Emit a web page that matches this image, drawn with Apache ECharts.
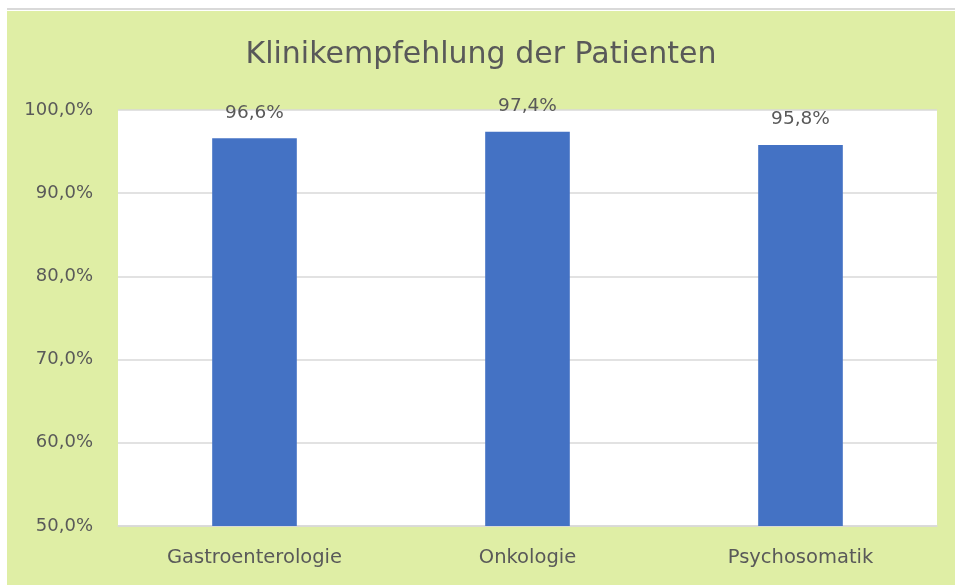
<!DOCTYPE html>
<html>
<head>
<meta charset="utf-8">
<script src="https://cdn.jsdelivr.net/npm/echarts@6/dist/echarts.min.js"></script>
<style>
  html, body { margin: 0; padding: 0; background: #ffffff; }
  #topline { position: absolute; left: 7px; top: 8px; width: 948px; height: 2px; background: #d9d9d9; }
  #main { position: absolute; left: 7px; top: 11px; width: 948px; height: 574px; }
</style>
</head>
<body>
<div id="topline"></div>
<div id="main"></div>
<script>
const categories = ['Gastroenterologie', 'Onkologie', 'Psychosomatik'];
const values = [96.6, 97.4, 95.8];
const yTicks = [50, 60, 70, 80, 90, 100];

function pct(v) {
  return v.toFixed(1).replace('.', ',') + '%';
}

const chart = echarts.init(document.getElementById('main'), null, { renderer: 'canvas' });

const option = {
  backgroundColor: '#dfeea5',
  animation: false,
  textStyle: { fontFamily: 'DejaVu Sans' },
  title: {
    text: 'Klinikempfehlung der Patienten',
    left: 'center',
    top: 24,
    textStyle: {
      fontFamily: 'DejaVu Sans',
      fontSize: 30,
      fontWeight: 'normal',
      color: '#595959'
    }
  },
  grid: {
    left: 111,
    right: 18,
    top: 99,
    bottom: 59,
    show: true,
    backgroundColor: '#ffffff',
    borderWidth: 0
  },
  xAxis: {
    type: 'category',
    data: categories,
    axisTick: { show: false },
    axisLine: { lineStyle: { color: '#d9d9d9', width: 1.5 } },
    axisLabel: {
      color: '#595959',
      fontSize: 19.5,
      margin: 22
    }
  },
  yAxis: {
    type: 'value',
    min: yTicks[0],
    max: yTicks[yTicks.length - 1],
    interval: 10,
    axisLine: { show: false },
    axisTick: { show: false },
    splitLine: { lineStyle: { color: '#d9d9d9', width: 1.5 } },
    axisLabel: {
      color: '#595959',
      fontSize: 18,
      margin: 25,
      formatter: pct
    }
  },
  series: [
    {
      type: 'bar',
      data: values,
      barWidth: '31%',
      itemStyle: { color: '#4472c4' },
      label: {
        show: true,
        position: 'top',
        distance: 16,
        color: '#595959',
        fontSize: 18.5,
        formatter: p => pct(p.value)
      }
    }
  ]
};

chart.setOption(option);
</script>
</body>
</html>
